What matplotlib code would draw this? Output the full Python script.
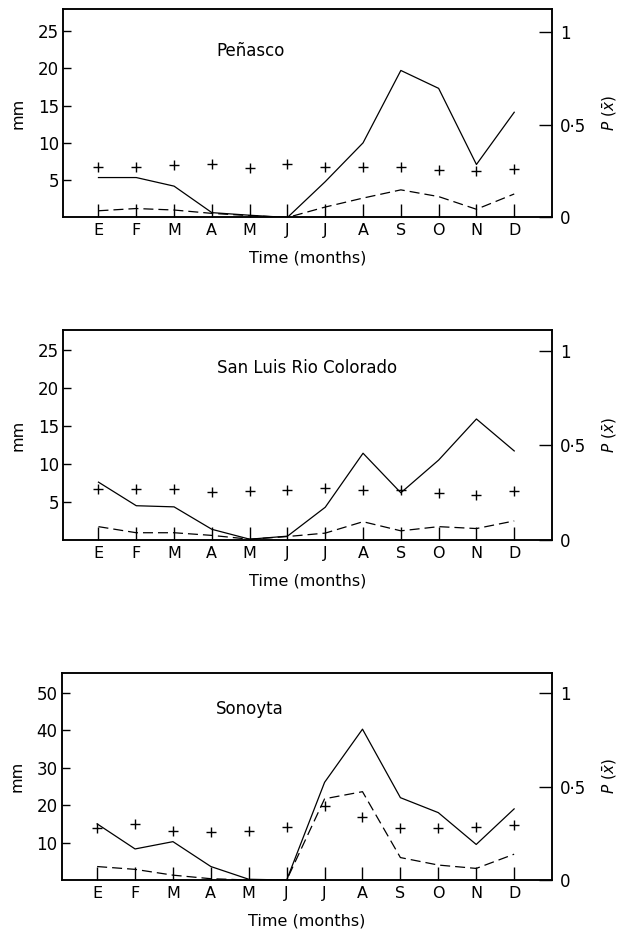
import matplotlib
matplotlib.use('Agg')
import matplotlib.pyplot as plt

months = ['E', 'F', 'M', 'A', 'M', 'J', 'J', 'A', 'S', 'O', 'N', 'D']

penasco_solid = [5.35, 5.35, 4.2, 0.65, 0.3, 0.0, 4.8, 10.0, 19.7, 17.3, 7.1, 14.1]
penasco_dashed = [0.9, 1.2, 1.0, 0.55, 0.25, 0.0, 1.4, 2.6, 3.7, 2.8, 1.1, 3.15]
penasco_p = [0.274, 0.274, 0.283, 0.287, 0.268, 0.287, 0.274, 0.27, 0.274, 0.256, 0.25, 0.26]

slrc_solid = [7.6, 4.5, 4.35, 1.4, 0.1, 0.5, 4.3, 11.4, 6.2, 10.5, 15.9, 11.7]
slrc_dashed = [1.75, 0.95, 0.95, 0.6, 0.1, 0.45, 0.9, 2.4, 1.2, 1.75, 1.5, 2.5]
slrc_p = [0.268, 0.269, 0.268, 0.255, 0.26, 0.264, 0.273, 0.264, 0.264, 0.25, 0.238, 0.26]

sonoyta_solid = [15.0, 8.3, 10.25, 3.6, 0.2, 0.0, 26.1, 40.3, 22.0, 18.0, 9.5, 19.0]
sonoyta_dashed = [3.6, 2.85, 1.3, 0.35, 0.0, 0.0, 21.7, 23.6, 6.0, 4.0, 3.1, 6.9]
sonoyta_p = [0.276, 0.298, 0.264, 0.255, 0.264, 0.282, 0.397, 0.339, 0.28, 0.276, 0.285, 0.294]

stations = ['Peñasco', 'San Luis Rio Colorado', 'Sonoyta']
left_ticks = [[5, 10, 15, 20, 25], [5, 10, 15, 20, 25], [10, 20, 30, 40, 50]]
right_ticks = [0, 0.5, 1]
right_labels = ['0', '0·5', '1']

plt.rcParams['font.family'] = ['DejaVu Sans']

fig = plt.figure(figsize=(6.19, 9.35), dpi=100)

panels = [
    (penasco_solid, penasco_dashed, penasco_p, [0.1023, 0.7674, 0.7895, 0.2227], 27.9, 1.122),
    (slrc_solid, slrc_dashed, slrc_p, [0.1023, 0.4225, 0.7895, 0.2246], 27.6, 1.109),
    (sonoyta_solid, sonoyta_dashed, sonoyta_p, [0.1000, 0.0588, 0.7918, 0.2214], 55.3, 1.107),
]
title_y = [0.80, 0.82, 0.826]

x = list(range(len(months)))
for i, (solid, dashed, pvals, rect, ymax, rymax) in enumerate(panels):
    ax = fig.add_axes(rect)
    ax.plot(x, solid, color='black', lw=0.9)
    ax.plot(x, dashed, color='black', lw=0.9, dashes=(8, 4))
    ax.set_xlim(-0.93, 12.0)
    ax.set_ylim(0, ymax)
    ax.set_xticks(x)
    ax.set_xticklabels(months, fontsize=11.5)
    ax.set_yticks(left_ticks[i])
    ax.set_yticklabels([str(t) for t in left_ticks[i]], fontsize=12)
    ax.tick_params(axis='x', direction='in', length=9.4, width=1.0, pad=4)
    ax.tick_params(axis='y', direction='in', length=5.5, width=1.0, pad=3)
    for sp in ax.spines.values():
        sp.set_linewidth(1.1)
    ax.set_ylabel('mm', fontsize=11.5, labelpad=9)
    ax.set_xlabel('Time (months)', fontsize=11.5, labelpad=9)
    ax.text(0.314, title_y[i], stations[i],
            transform=ax.transAxes, fontsize=12, ha='left', va='center')

    ax2 = ax.twinx()
    ax2.plot(x, pvals, linestyle='none', marker='+', color='black', ms=7, mew=1.0)
    ax2.set_ylim(0, rymax)
    ax2.set_yticks(right_ticks)
    ax2.set_yticklabels(right_labels, fontsize=12)
    ax2.tick_params(axis='y', direction='in', length=9.4, width=1.0, pad=6)
    for sp in ax2.spines.values():
        sp.set_linewidth(1.1)
    ax2.set_ylabel(r'$P\ (\bar{x})$', fontsize=11, labelpad=10)

fig.savefig('out.png', dpi=100)
